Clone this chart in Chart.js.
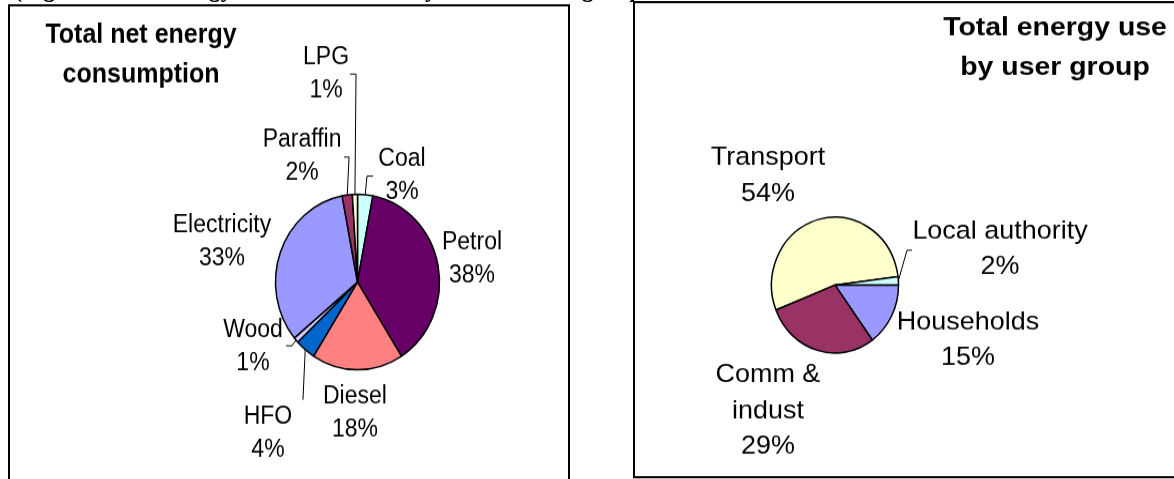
<!DOCTYPE html>
<html>
<head>
<meta charset="utf-8">
<script src="https://cdn.jsdelivr.net/npm/chart.js@4.4.1/dist/chart.umd.min.js"></script>
<style>
  html, body { margin: 0; padding: 0; background: #fff; width: 1174px; height: 479px; overflow: hidden; }
  #page { position: absolute; left: 0; top: 0; width: 1174px; height: 448px; transform: scaleY(1.07); transform-origin: 0 0; }
  .box { position: absolute; border: 2px solid #000; box-sizing: border-box; }
  #fuelBox { left: 8px; top: 4px; width: 562px; height: 470px; }
  #groupBox { left: 633px; top: 1px; width: 560px; height: 446px; }
  #caption { position: absolute; left: 14px; top: -21px; font: bold 24px "Liberation Serif", "Times New Roman", serif; line-height: 20px; white-space: nowrap; color: #000; }
  canvas { position: absolute; left: 0; top: 0; }
</style>
</head>
<body>
<div id="page">
  <div id="caption">(Figure 3: Net energy demand and use by fuel and user group</div>
  <div class="box" id="fuelBox"></div>
  <div class="box" id="groupBox"></div>
  <canvas id="fuelChart" width="1174" height="448" style="width:1174px;height:448px"></canvas>
  <canvas id="groupChart" width="1174" height="448" style="width:1174px;height:448px"></canvas>
</div>
<script>
// Net energy consumption by fuel (per cent), clockwise from 12 o'clock
const fuelNames = [['Coal'], ['Petrol'], ['Diesel'], ['HFO'], ['Wood'], ['Electricity'], ['Paraffin'], ['LPG']];
const fuelShares = [3, 38, 18, 4, 1, 33, 2, 1];
const fuelColours = ['#CCFFFF', '#660066', '#FF8080', '#0066CC', '#CCCCFF', '#9999FF', '#993366', '#FFFFCC'];

// Energy use by user group (per cent)
const groupNames = [['Transport'], ['Local authority'], ['Households'], ['Comm &', 'indust']];
const groupShares = [54, 2, 15, 29];
const groupColours = ['#FFFFCC', '#CCFFFF', '#9999FF', '#993366'];

// Label placement around each pie: direction (degrees clockwise from top) and distance from the centre
const fuelLabelAngle = [24.2, 79.4, 181.2, 212.4, 239.9, 285.4, 334.8, 350.8];
const fuelLabelDist  = [108.6, 116.5, 122.4, 167.1, 120.8, 140.6, 130.2, 196.9];
// Leader lines: bend points relative to the label centre
const fuelLeaders = [
  [[-35, 0], [-29, 0]],
  null, null,
  [[35, -31]],
  [[39, -1], [33, -1]],
  null,
  [[47, 1], [42, 1]],
  [[30, 0], [24, 0]]
];
const groupLabelAngle = [326.7, 78.5, 111.1, 209.7];
const groupLabelDist  = [122, 168.4, 142.6, 135.4];
const groupLeaders = [null, [[-93, 1], [-88, 1]], null, null];

const FONT = '"Liberation Sans", Arial, sans-serif';

// Writes a line of text centred on (x, y), optionally widened horizontally
function stretchedText(ctx, text, x, y, sx) {
  ctx.save();
  ctx.translate(x, y);
  ctx.scale(sx, 1);
  ctx.fillText(text, 0, 0);
  ctx.restore();
}

const sliceLabels = {
  id: 'sliceLabels',
  afterDatasetsDraw(chart, args, opts) {
    const ctx = chart.ctx;
    const meta = chart.getDatasetMeta(0);
    const values = chart.data.datasets[0].data;
    ctx.save();
    ctx.font = opts.font;
    ctx.fillStyle = '#000';
    ctx.textAlign = 'center';
    ctx.textBaseline = 'middle';
    meta.data.forEach((arc, i) => {
      const p = arc.getProps(['x', 'y', 'startAngle', 'endAngle', 'outerRadius'], true);
      const a = opts.angles[i] * Math.PI / 180;
      const cx = p.x + opts.dists[i] * Math.sin(a);
      const cy = p.y - opts.dists[i] * Math.cos(a);
      const lines = opts.names[i].concat([values[i] + '%']);
      const top = cy - (lines.length - 1) * opts.lineHeight / 2;
      lines.forEach((t, k) => stretchedText(ctx, t, cx, top + k * opts.lineHeight, opts.stretchX));
      const lead = opts.leaders[i];
      if (lead) {
        const mid = (p.startAngle + p.endAngle) / 2;
        ctx.beginPath();
        ctx.moveTo(p.x + p.outerRadius * Math.cos(mid), p.y + p.outerRadius * Math.sin(mid));
        lead.forEach(([dx, dy]) => ctx.lineTo(cx + dx, cy + dy));
        ctx.lineWidth = 1;
        ctx.strokeStyle = '#000';
        ctx.stroke();
      }
    });
    ctx.restore();
  }
};

const panelTitle = {
  id: 'panelTitle',
  afterDraw(chart, args, opts) {
    const ctx = chart.ctx;
    ctx.save();
    ctx.font = opts.font;
    ctx.fillStyle = '#000';
    ctx.textAlign = 'center';
    ctx.textBaseline = 'alphabetic';
    opts.lines.forEach((t, k) => stretchedText(ctx, t, opts.x, opts.y + k * opts.lineHeight, opts.stretchX));
    ctx.restore();
  }
};

function pieChart(id, names, shares, colours, rotation, centre, radius, labelOpts, titleOpts) {
  const W = 1174, H = 448, half = radius + 0.75;
  return new Chart(document.getElementById(id), {
    type: 'pie',
    data: {
      labels: names.map(n => n.join(' ')),
      datasets: [{ data: shares, backgroundColor: colours, borderColor: '#000', borderWidth: 1.5 }]
    },
    options: {
      responsive: false,
      animation: false,
      rotation: rotation,
      layout: { padding: { left: centre[0] - half, right: W - centre[0] - half, top: centre[1] - half, bottom: H - centre[1] - half } },
      plugins: {
        legend: { display: false },
        tooltip: { enabled: false },
        sliceLabels: labelOpts,
        panelTitle: titleOpts
      }
    },
    plugins: [sliceLabels, panelTitle]
  });
}

pieChart('fuelChart', fuelNames, fuelShares, fuelColours, 0, [357.5, 263.6], 82,
  { font: '23px ' + FONT, lineHeight: 31, stretchX: 1, names: fuelNames, angles: fuelLabelAngle, dists: fuelLabelDist, leaders: fuelLeaders },
  { font: 'bold 25px ' + FONT, lines: ['Total net energy', 'consumption'], x: 141, y: 40, lineHeight: 36.5, stretchX: 1 });

pieChart('groupChart', groupNames, groupShares, groupColours, -111.6, [835, 266.4], 63.5,
  { font: '24.5px ' + FONT, lineHeight: 33.6, stretchX: 1.1, names: groupNames, angles: groupLabelAngle, dists: groupLabelDist, leaders: groupLeaders },
  { font: 'bold 24.5px ' + FONT, lines: ['Total energy use', 'by user group'], x: 1055, y: 32.5, lineHeight: 37, stretchX: 1.16 });
</script>
</body>
</html>
